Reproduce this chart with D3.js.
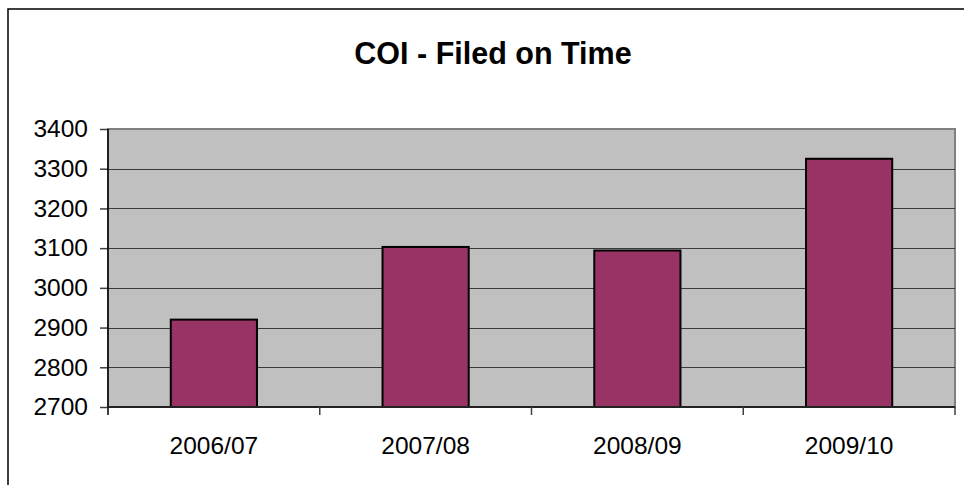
<!DOCTYPE html>
<html><head><meta charset="utf-8">
<script src="https://cdn.jsdelivr.net/npm/d3@7"></script>
<style>html,body{margin:0;padding:0;background:#fff;}svg{display:block;}</style>
</head><body>
<svg id="chart" width="964" height="485"></svg>
<script>
const title = "COI - Filed on Time";
const categories = ["2006/07", "2007/08", "2008/09", "2009/10"];
const values = [2920, 3103, 3094, 3325];
const yTicks = [2700, 2800, 2900, 3000, 3100, 3200, 3300, 3400];

const svg = d3.select("#chart");
const W = 964, H = 485;
const m = {left: 108, top: 129, right: 955, bottom: 407};
const font = "Arial, 'Liberation Sans', sans-serif";

svg.append("rect").attr("x", 8).attr("y", 9).attr("width", W).attr("height", H)
  .attr("fill", "#fff").attr("stroke", "#000").attr("stroke-width", 1.5);

svg.append("text").attr("x", 493).attr("y", 64).attr("text-anchor", "middle")
  .attr("font-family", font).attr("font-weight", "bold").attr("font-size", 30.5)
  .attr("fill", "#000").text(title);

const x = d3.scaleBand().domain(categories).range([m.left, m.right])
  .paddingInner(0.593).paddingOuter(0.2965);
const y = d3.scaleLinear().domain([2700, 3400]).range([m.bottom, m.top]);

// plot area
svg.append("rect").attr("x", m.left).attr("y", m.top)
  .attr("width", m.right - m.left).attr("height", m.bottom - m.top)
  .attr("fill", "#c0c0c0").attr("stroke", "#808080").attr("stroke-width", 2);

// gridlines
svg.append("g").selectAll("line").data(yTicks.slice(1, -1)).join("line")
  .attr("x1", m.left).attr("x2", m.right)
  .attr("y1", d => Math.round(y(d)) + 0.5).attr("y2", d => Math.round(y(d)) + 0.5)
  .attr("stroke", "#3a3a3a").attr("stroke-width", 1);

// bars
svg.append("g").selectAll("rect").data(values).join("rect")
  .attr("x", (d, i) => x(categories[i]))
  .attr("y", d => y(d))
  .attr("width", x.bandwidth())
  .attr("height", d => y(2700) - y(d))
  .attr("fill", "#993366").attr("stroke", "#000").attr("stroke-width", 2);

// y axis
const yAxis = d3.axisLeft(y).tickValues(yTicks).tickSize(8).tickPadding(12).tickFormat(d3.format("d"));
const gy = svg.append("g").attr("transform", `translate(${m.left},0)`).call(yAxis);
gy.select(".domain").remove();
gy.append("line").attr("x1", 0).attr("x2", 0).attr("y1", m.top).attr("y2", m.bottom + 8)
  .attr("stroke", "#000").attr("stroke-width", 1.5);
gy.selectAll(".tick line").attr("stroke", "#404040").attr("stroke-width", 1.5);
gy.selectAll(".tick text").attr("font-family", font).attr("font-size", 24.5).attr("fill", "#000");

// x axis
const xAxis = d3.axisBottom(x).tickSize(0).tickPadding(30);
const gx = svg.append("g").attr("transform", `translate(0,${m.bottom})`).call(xAxis);
gx.select(".domain").remove();
gx.append("line").attr("x1", m.left).attr("x2", m.right).attr("y1", 0).attr("y2", 0)
  .attr("stroke", "#222").attr("stroke-width", 2);
gx.selectAll(".tick text").attr("font-family", font).attr("font-size", 24.5).attr("fill", "#000");
const bounds = categories.map(c => x(c) - x.step() * x.paddingInner() / 2).concat([m.right]);
gx.append("g").selectAll("line").data(bounds.slice(1)).join("line")
  .attr("x1", d => d).attr("x2", d => d).attr("y1", 0).attr("y2", 8)
  .attr("stroke", "#404040").attr("stroke-width", 1.5);
</script>
</body></html>
